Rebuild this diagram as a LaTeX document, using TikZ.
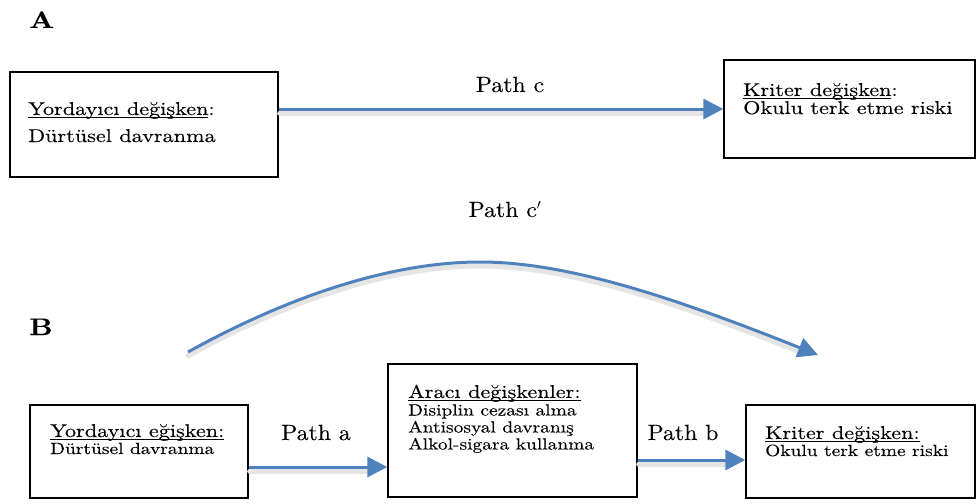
\documentclass[tikz,border=0pt]{standalone}
\usepackage{fontspec}
\setmainfont{lmroman10-regular.otf}[BoldFont=lmroman10-bold.otf, FakeStretch=1.2, FakeBold=0.2]
\newfontfamily\lblfont{lmroman10-regular.otf}[FakeStretch=1.08, FakeBold=0.15]
\usetikzlibrary{arrows.meta}
\definecolor{arrblue}{RGB}{79,129,189}
\newcommand{\myul}[1]{\setbox0\hbox{#1}\rlap{\rule[-2.6pt]{\wd0}{0.9pt}}\box0}
\tikzset{
  box/.style={draw=black, line width=1.4pt, rectangle, inner sep=0pt},
  txt/.style={anchor=base west, inner sep=0pt, font=\fontsize{18.5}{18.5}\selectfont},
  txtb/.style={anchor=base west, inner sep=0pt, font=\fontsize{16.2}{16.2}\selectfont},
  lbl/.style={anchor=base, inner sep=0pt, font=\lblfont\fontsize{22}{22}\selectfont},
  panel/.style={anchor=base west, inner sep=0pt, font=\fontsize{24}{24}\selectfont\bfseries},
  arr/.style={draw=arrblue, line width=3pt, -{Triangle[length=20pt,width=20pt]}},
  shad/.style={draw=black!10, line width=5pt, line cap=round}
}
\begin{document}
\begin{tikzpicture}[x=1pt,y=-1pt]
\useasboundingbox (0,0) rectangle (979,503);
% panel labels
\node[panel] (pA) at (29,28) {A};
\node[panel] (pB) at (29,335) {B};
% boxes
\node[box, minimum width=268pt, minimum height=105pt] (A1) at (144,124.5) {};
\node[box, minimum width=251pt, minimum height=98pt] (A2) at (849.5,109) {};
\node[box, minimum width=218pt, minimum height=93pt] (B1) at (139,451.5) {};
\node[box, minimum width=249pt, minimum height=133pt] (B2) at (512.5,430.5) {};
\node[box, minimum width=229pt, minimum height=93pt] (B3) at (860.5,451.5) {};
% texts A
\node[txt] (a1t1) at (28,115) {\myul{Yordayıcı değişken}:};
\node[txt] (a1t2) at (28,142) {Dürtüsel davranma};
\node[txt] (a2t1) at (743,96) {\myul{Kriter değişken}:};
\node[txt] (a2t2) at (743,114) {Okulu terk etme riski};
% texts B
\node[txt] (b1t1) at (50,437) {\myul{Yordayıcı eğişken:}};
\node[txtb] (b1t2) at (50,454) {Dürtüsel davranma};
\node[txt] (b2t1) at (408,398) {\myul{Aracı değişkenler:}};
\node[txtb] (b2t2) at (408,415.5) {Disiplin cezası alma};
\node[txtb] (b2t3) at (408,432.5) {Antisosyal davranış};
\node[txtb] (b2t4) at (408,449.5) {Alkol-sigara kullanma};
\node[txt] (b3t1) at (765,439) {\myul{Kriter değişken:}};
\node[txtb] (b3t2) at (765,456) {Okulu terk etme riski};
% path labels
\node[lbl] (lc) at (510,92) {Path c};
\node[lbl] (lcp) at (505,217) {Path c$'$};
\node[lbl] (la) at (316,440) {Path a};
\node[lbl] (lb) at (683,440) {Path b};
% helper coordinates
\coordinate (ya) at (0,467);
\coordinate (yb) at (0,460);
\coordinate (cs) at (188,352);
\coordinate (ce) at (818,355);
% shadows
\draw[shad] ([shift={(1,4)}]A1.east |- A2.west) -- ([shift={(-20,4)}]A2.west);
\draw[shad] ([shift={(1,4)}]B1.east |- ya) -- ([shift={(-20,4)}]B2.west |- ya);
\draw[shad] ([shift={(1,4)}]B2.east |- yb) -- ([shift={(-20,4)}]B3.west |- yb);
\draw[shad] ([shift={(0,4)}]cs) .. controls (300,294) and (400,266) .. (480,266) .. controls (570,266) and (680,304) .. (800,352);
% connectors
\draw[arr] (A1.east |- A2.west) -- (A2.west);
\draw[arr] (B1.east |- ya) -- (B2.west |- ya);
\draw[arr] (B2.east |- yb) -- (B3.west |- yb);
\draw[arr] (cs) .. controls (300,290) and (400,262) .. (480,262) .. controls (570,262) and (680,300) .. (ce);
\end{tikzpicture}
\end{document}
